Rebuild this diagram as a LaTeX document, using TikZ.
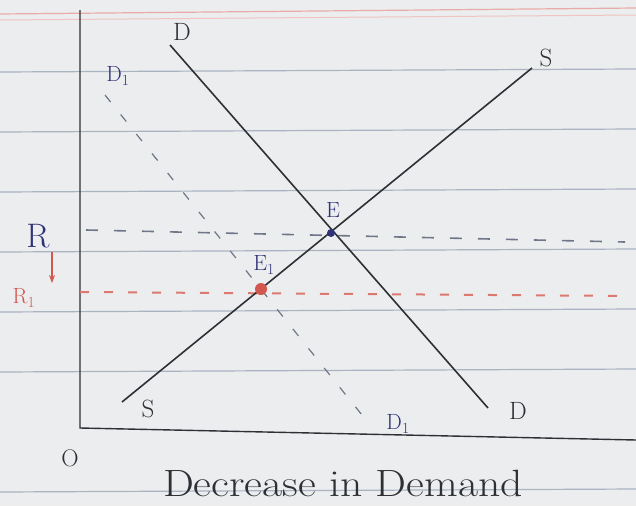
\documentclass[tikz,border=0pt]{standalone}
\usetikzlibrary{arrows.meta}
\definecolor{paper}{HTML}{ECEDEF}
\definecolor{rule}{HTML}{A9B4C0}
\definecolor{ink}{HTML}{2E3035}
\definecolor{blueink}{HTML}{2F3277}
\definecolor{redink}{HTML}{D2574E}
\definecolor{dashink}{HTML}{6E7688}
\tikzset{
  ruleline/.style={rule, line width=1.2pt},
  curve/.style={ink, line width=1.6pt},
  axisline/.style={ink, line width=1.4pt},
  shiftline/.style={dashink, line width=1.2pt, dash pattern=on 9pt off 16pt},
  levelR/.style={dashink, line width=1.6pt, dash pattern=on 12pt off 16pt},
  levelRone/.style={redink!80, line width=2pt, dash pattern=on 9pt off 15pt},
  lbl/.style={ink, font=\fontsize{25}{27}\selectfont},
  bluelbl/.style={blueink, font=\fontsize{22}{24}\selectfont},
}
\begin{document}
\begin{tikzpicture}[x=1pt,y=-1pt]
\useasboundingbox[fill=paper] (0,0) rectangle (636,506);
% notebook ruling
\draw[redink!50, line width=1.2pt] (0,14) -- (636,8);
\draw[redink!35, line width=1pt] (0,20) -- (636,15);
\foreach \yy in {72,132,192,252,312,372,492}
  \draw[ruleline] (0,\yy) -- (636,\yy-3);
% coordinates
\coordinate (yTop) at (80,10);
\coordinate (orig) at (80,428);
\coordinate (xEnd) at (636,440);
\coordinate (Dtop) at (170,45);
\coordinate (Dbot) at (488,408);
\coordinate (Sbot) at (122,402);
\coordinate (Stop) at (532,68);
\coordinate (D1top) at (105,95);
\coordinate (D1bot) at (370,425);
\coordinate (RL) at (86,230);
\coordinate (RR) at (625,242);
\coordinate (R1L) at (80,292);
\coordinate (R1R) at (630,296);
\coordinate (E) at (331,233);
\coordinate (E1) at (261,289);
\coordinate (arrTop) at (52,252);
\coordinate (arrBot) at (52,283);
% axes
\draw[axisline] (yTop) -- (orig) -- (xEnd);
% price levels
\draw[levelR] (RL) -- (RR);
\draw[levelRone] (R1L) -- (R1R);
% curves
\draw[shiftline] (D1top) -- (D1bot);
\draw[curve] (Dtop) -- (Dbot);
\draw[curve] (Sbot) -- (Stop);
% equilibria
\fill[blueink] (E) circle (4pt);
\fill[redink] (E1) circle (6pt);
% labels
\node[lbl] (lDt) at (182,32) {D};
\node[lbl] (lDb) at (518,411) {D};
\node[lbl] (lSt) at (546,58) {S};
\node[lbl] (lSb) at (148,409) {S};
\node[bluelbl] (lD1t) at (118,76) {D\textsubscript{1}};
\node[bluelbl] (lD1b) at (398,424) {D\textsubscript{1}};
\node[bluelbl] (lE) at (333,210) {E};
\node[bluelbl] (lE1) at (264,265) {E\textsubscript{1}};
\node[blueink, font=\fontsize{34}{36}\selectfont] (lR) at (38,236) {R};
\node[redink, font=\fontsize{22}{24}\selectfont] (lR1) at (24,298) {R\textsubscript{1}};
\draw[redink, line width=1.8pt, -{Stealth[length=8pt]}] (arrTop) -- (arrBot);
\node[lbl, font=\fontsize{24}{26}\selectfont] (lO) at (70,458) {O};
\node[ink, font=\fontsize{38}{40}\selectfont, xscale=1.15] (title) at (343,483) {Decrease in Demand};
\end{tikzpicture}
\end{document}
